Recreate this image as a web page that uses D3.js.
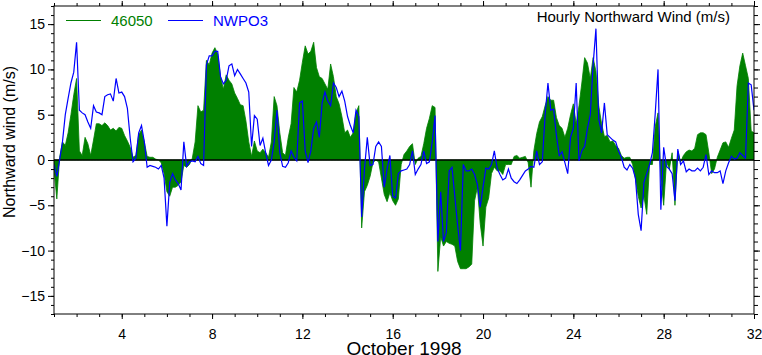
<!DOCTYPE html>
<html><head><meta charset="utf-8">
<script src="https://cdn.jsdelivr.net/npm/d3@7"></script>
<style>
html,body{margin:0;padding:0;background:#fff;}
svg{display:block;font-family:"Liberation Sans",Arial,Helvetica,sans-serif;}
</style></head>
<body><svg id="c" width="762" height="355"></svg>
<script>
// ---- data (3-hourly samples, starting Oct 1 00h) ----
const startDay = 1;
const stepHours = 3;
const seriesNames = ["46050", "NWPO3"];
const seriesColors = ["#008000", "#0000ff"];
const buoy46050 = [
 -1,-4.3,0.3,2,1.6,3,5,7.2, 9,1,0.5,2.5,1.8,0.5,2.2,4,
 4,3.8,4.1,3.8,3.3,3.5,3.2,3.6, 3.5,2.7,2.1,1.4,0.3,0.5,2.8,3.3,
 2,0.4,0.3,0.3,0.1,0,-0.3,-1.5, -3.5,-4,-3,-3,-2.8,-2.4,-0.6,-0.8,
 -0.5,0.2,2,6,5.3,5.5,11,10.5, 11.8,12.4,11.7,9.2,7.8,9.4,8.8,8.4,
 7.4,6.8,6.1,6,4.3,2,0.4,2.1, 1,0.8,1.2,0.8,0.3,2,7,6,
 3,0.8,0.5,2.5,4,8,7.5,8.8, 10.8,12.6,11.7,12,13,10.2,9.2,9,
 8.4,7.8,10.6,9.2,7,6.2,4.8,3, 3.3,2.5,3,5.2,6,-7.5,-3.5,-2.8,
 -1.8,-0.3,0,-0.2,-2,-3.8,-4.6,-3.6, -4.5,-5,-4.3,-0.5,0.6,1,1.5,1.8,
 -0.5,0.2,0.4,1.8,3.5,4.6,6,5.8, -12.3,-8.5,-9.5,-9,-9.2,-9.3,-9.5,-11.2,
 -12,-12,-12,-11.8,-11.5,-4.5,-3,-7, -9.5,-5.2,-4.2,-1.5,-0.8,-1.2,-1.2,-1.6,
 -0.5,-0.5,-0.5,0.4,0.5,0.2,0.3,0.4, -0.3,-3,1,2.9,4.2,4.8,6,7,
 6.6,6.6,4.7,3.8,3.5,2.5,3.5,5, 6.2,4,6,8.5,11.3,10.7,9,11.3,
 9.8,6,4,2.6,2.7,2,2.1,1.6, 1.3,0.5,0.2,0.3,0.3,-0.5,-2.1,-4,
 -5.3,-4,-6,-0.5,-0.5,3.7,5.2,-2, -5,-0.2,-1,0.8,-5,1,-0.2,0.5,
 0.9,1.1,1,1.3,2.8,3,3,2.8, 0.8,-1.5,-1,0.3,1.1,1.9,2,1.4,
 2.4,3.3,8.2,10.4,11.8,10.4,9,3.2, 3
];
const nwpo3 = [
 -0.5,-1.8,0,2,5,6.8,8.5,9.7, 13,5.5,5.2,5,4.2,3.5,6,5.3,
 5.2,5,7,7.2,7.3,6.5,9,7.4, 7.5,7,5.7,2.4,-0.2,0.2,3,3.8,
 2,-0.8,-0.6,-0.7,-0.8,-1,-0.6,-2, -7.3,-2.5,-1.5,-2.2,-2.6,-3.3,2,-0.7,
 -0.2,-0.1,-0.2,0.4,-0.4,-0.6,10.5,11.5, 11.5,12,12,9.2,8.4,8.8,10.4,10.6,
 9.3,10,9.5,9,8.5,7.5,1.5,4.9, 4.5,1.6,2.4,0.8,-0.6,0,2,5.5,
 0.8,-0.7,-0.8,-0.3,1,0.3,-0.1,6.3, 6.5,1,-0.3,1,3.5,4.2,2.5,6.3,
 7.5,6.5,6,8.5,8,7,7.6,6.5, 4.8,3.8,3,5.5,4.8,-6.3,-1,2.5,
 -0.6,-0.5,1.5,2,1.5,-3,-1,0.5, -4,-4.2,-1.5,-1.2,-1.1,-1,-0.5,1,
 -1.6,-1,-0.5,1,-0.4,-0.2,2,4.9, -9,-3.5,-9,-8,-1.2,-0.8,-4,-7.2,
 -10,-0.5,-1.2,-1.2,-1,-1.6,-2.7,-5.2, -3,-0.9,-1,-0.5,1,-0.9,-1.6,-2.2,
 -2,-1,-2,-2.4,-2.6,-2.2,-1.7,-1.2, -1,-0.7,-0.8,1,-0.5,-0.2,5,8.5,
 5.5,5.6,2.7,0.5,0.9,-0.3,-1.5,2.5, 3.5,8.5,-0.1,1,1.5,3.5,5,10.5,
 14.5,4.5,3,6.3,2.8,2.5,2.2,2, 1,0.3,-0.8,-1.1,-0.5,-0.9,-2,-6,
 -7.8,-2.5,-1.5,-0.5,0.8,5.1,10,-5.5, 1.4,-0.7,-1,-1.5,-4.5,1.2,-0.5,-0.1,
 -1.3,-1,-1.2,-1.2,-0.9,-1.2,-0.8,0.6, -1.6,-1.2,-1.4,-1.4,-1.2,-2.6,-1.2,-0.3,
 0.4,0.1,0.2,0.8,0.5,0.2,8.5,8.3, 5.5
];
const xTickLabels = [4, 8, 12, 16, 20, 24, 28, 32];
const yTickLabels = [-15, -10, -5, 0, 5, 10, 15];
const xDomain = [1, 32];
const yDomain = [-17, 17];
const titleText = "Hourly Northward Wind (m/s)";
const xTitle = "October 1998";
const yTitle = "Northward wind (m/s)";

// ---- drawing ----
const svg = d3.select("#c");
const L = 54, R = 754, T = 6, B = 314;
const x = d3.scaleLinear().domain(xDomain).range([L, R]);
const y = d3.scaleLinear().domain(yDomain).range([B, T]);
const tOf = i => startDay + i * stepHours / 24;

const gA = buoy46050.map((v, i) => [tOf(i), v]);
const gB = nwpo3.map((v, i) => [tOf(i), v]);

svg.append("clipPath").attr("id", "pc").append("rect")
  .attr("x", L).attr("y", T).attr("width", R - L).attr("height", B - T);
const plot = svg.append("g").attr("clip-path", "url(#pc)");

plot.append("path").datum(gA)
  .attr("d", d3.area().x(d => x(d[0])).y0(y(0)).y1(d => y(d[1])))
  .attr("fill", seriesColors[0]).attr("stroke", seriesColors[0]).attr("stroke-width", 0.8);

plot.append("line").attr("x1", L).attr("x2", R).attr("y1", y(0)).attr("y2", y(0))
  .attr("stroke", "#000").attr("stroke-width", 1.3);

plot.append("path").datum(gB)
  .attr("d", d3.line().x(d => x(d[0])).y(d => y(d[1])))
  .attr("fill", "none").attr("stroke", seriesColors[1]).attr("stroke-width", 1.2);

// axes
const minorX = d3.range(xDomain[0], xDomain[1] + 1);
const minorY = d3.range(yDomain[0], yDomain[1] + 1);
function styleAxis(g) {
  g.select(".domain").remove();
  g.selectAll("line").attr("stroke", "#000");
  g.selectAll("text").attr("fill", "#000").style("font-size", "14px")
    .style("font-family", "'Liberation Sans',Arial,sans-serif");
}
// bottom
svg.append("g").attr("transform", `translate(0,${B})`)
  .call(d3.axisBottom(x).tickValues(minorX).tickSize(3).tickFormat("")).call(styleAxis);
svg.append("g").attr("transform", `translate(0,${B})`)
  .call(d3.axisBottom(x).tickValues(xTickLabels).tickSize(5).tickPadding(10).tickFormat(d3.format("d"))).call(styleAxis);
// top
svg.append("g").attr("transform", `translate(0,${T})`)
  .call(d3.axisTop(x).tickValues(minorX).tickSize(3).tickFormat("")).call(styleAxis);
svg.append("g").attr("transform", `translate(0,${T})`)
  .call(d3.axisTop(x).tickValues(xTickLabels).tickSize(5).tickFormat("")).call(styleAxis);
// left
svg.append("g").attr("transform", `translate(${L},0)`)
  .call(d3.axisLeft(y).tickValues(minorY).tickSize(3).tickFormat("")).call(styleAxis);
svg.append("g").attr("transform", `translate(${L},0)`)
  .call(d3.axisLeft(y).tickValues(yTickLabels).tickSize(6).tickPadding(3).tickFormat(d3.format("d"))).call(styleAxis);
// right
svg.append("g").attr("transform", `translate(${R},0)`)
  .call(d3.axisRight(y).tickValues(minorY).tickSize(4).tickFormat("")).call(styleAxis);
svg.append("g").attr("transform", `translate(${R},0)`)
  .call(d3.axisRight(y).tickValues(yTickLabels).tickSize(6).tickFormat("")).call(styleAxis);

// frame
svg.append("rect").attr("x", L).attr("y", T).attr("width", R - L).attr("height", B - T)
  .attr("fill", "none").attr("stroke", "#000").attr("stroke-width", 1);

// legend
const legend = [{x: 66, name: seriesNames[0], c: seriesColors[0]}, {x: 168, name: seriesNames[1], c: seriesColors[1]}];
legend.forEach(l => {
  svg.append("line").attr("x1", l.x).attr("x2", l.x + 35).attr("y1", 20.5).attr("y2", 20.5)
    .attr("stroke", l.c).attr("stroke-width", 1.2);
  svg.append("text").attr("x", l.x + 45).attr("y", 26).attr("fill", l.c)
    .style("font-size", "15px").text(l.name);
});
svg.append("text").attr("x", 730).attr("y", 22).attr("text-anchor", "end")
  .style("font-size", "15px").attr("fill", "#000").text(titleText);

svg.append("text").attr("x", (L + R) / 2).attr("y", 355).attr("text-anchor", "middle")
  .style("font-size", "19px").attr("fill", "#000").text(xTitle);
svg.append("text").attr("transform", `translate(15,142) rotate(-90)`).attr("text-anchor", "middle")
  .style("font-size", "16px").attr("fill", "#000").text(yTitle);
</script></body></html>
